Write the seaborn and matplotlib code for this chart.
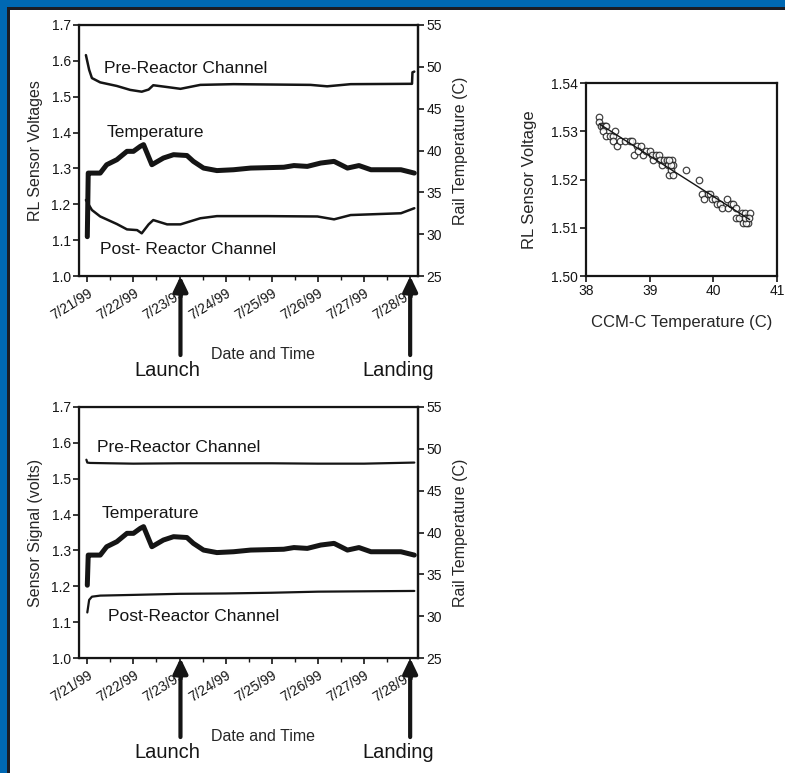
import numpy as np
import pandas as pd
import matplotlib
matplotlib.use("Agg")
import matplotlib.pyplot as plt
from matplotlib.patches import Rectangle
import seaborn as sns

# x axis: days since 7/21/99 00:00
day_ticks = [0, 1, 2, 3, 4, 5, 6, 7]
day_labels = ["7/21/99", "7/22/99", "7/23/99", "7/24/99",
              "7/25/99", "7/26/99", "7/27/99", "7/28/99"]

event_names = ["Launch", "Landing"]
event_days = [2.02, 7.0]

# upper panel: RL sensor voltages
top_pre_days = [-0.03, 0.04, 0.10, 0.28, 0.64, 0.93, 1.18, 1.33, 1.43, 1.73, 2.02,
                2.45, 3.17, 4.84, 5.20, 5.71, 7.04, 7.05, 7.09]
top_pre_volts = [1.616, 1.575, 1.552, 1.540, 1.530, 1.519, 1.514, 1.520, 1.532, 1.527, 1.522,
                 1.533, 1.535, 1.533, 1.529, 1.535, 1.536, 1.568, 1.570]
top_post_days = [-0.03, 0.10, 0.28, 0.64, 0.86, 1.08, 1.18, 1.33, 1.43, 1.73, 2.02,
                 2.45, 2.81, 3.90, 4.99, 5.35, 5.71, 6.80, 7.09]
top_post_volts = [1.212, 1.184, 1.166, 1.145, 1.130, 1.128, 1.119, 1.144, 1.156, 1.144, 1.144,
                  1.161, 1.167, 1.167, 1.166, 1.158, 1.170, 1.175, 1.189]
top_temp_start = 29.7

# lower panel: sensor signal
bot_pre_days = [-0.02, 0.00, 0.06, 0.50, 1.00, 2.00, 3.00, 4.00, 5.00, 6.00, 7.09]
bot_pre_volts = [1.553, 1.545, 1.544, 1.543, 1.542, 1.543, 1.543, 1.543, 1.542, 1.542, 1.545]
bot_post_days = [0.00, 0.04, 0.10, 0.28, 1.00, 2.00, 3.00, 4.00, 5.00, 6.00, 7.09]
bot_post_volts = [1.127, 1.162, 1.171, 1.174, 1.176, 1.179, 1.180, 1.182, 1.185, 1.186, 1.187]
bot_temp_start = 33.7

# rail temperature (C), same for both panels after the first reading
temp_days = [0.06, 0.28, 0.42, 0.64, 0.86, 1.00, 1.15, 1.22, 1.40, 1.65, 1.87, 2.16, 2.30,
             2.52, 2.81, 3.17, 3.54, 4.26, 4.48, 4.77, 5.06, 5.35, 5.64, 5.89, 6.15, 6.80, 7.09]
temp_c = [37.3, 37.3, 38.3, 38.9, 39.9, 39.9, 40.5, 40.7, 38.3, 39.1, 39.5, 39.4, 38.7,
          37.9, 37.6, 37.7, 37.9, 38.0, 38.2, 38.1, 38.5, 38.7, 37.9, 38.2, 37.7, 37.7, 37.3]

# voltage vs temperature scatter
scatter_temp = [38.21, 38.21, 38.23, 38.27, 38.30, 38.32, 38.26, 38.31, 38.38, 38.42,
                38.46, 38.43, 38.49, 38.53, 38.61, 38.69, 38.72, 38.75, 38.80, 38.87,
                38.82, 38.90, 38.95, 39.01, 39.04, 39.06, 39.10, 39.14, 39.17, 39.19,
                39.23, 39.27, 39.29, 39.31, 39.33, 39.35, 39.36, 39.37, 39.34, 39.30,
                39.57, 39.78, 39.82, 39.86, 39.91, 39.95, 39.98, 40.03, 40.06, 40.10,
                40.14, 40.21, 40.23, 40.27, 40.31, 40.36, 40.35, 40.41, 40.45, 40.47,
                40.50, 40.52, 40.55, 40.57, 40.52, 40.49, 40.56]
scatter_volt = [1.533, 1.532, 1.531, 1.531, 1.531, 1.531, 1.530, 1.529, 1.529, 1.529,
                1.530, 1.528, 1.527, 1.528, 1.528, 1.528, 1.528, 1.525, 1.527, 1.527,
                1.526, 1.525, 1.526, 1.526, 1.525, 1.524, 1.525, 1.525, 1.524, 1.523,
                1.524, 1.524, 1.523, 1.521, 1.522, 1.524, 1.523, 1.521, 1.523, 1.524,
                1.522, 1.520, 1.517, 1.516, 1.517, 1.517, 1.516, 1.516, 1.515, 1.515,
                1.514, 1.516, 1.514, 1.515, 1.515, 1.514, 1.512, 1.512, 1.513, 1.511,
                1.513, 1.512, 1.511, 1.513, 1.511, 1.512, 1.512]

ink = "#151515"

sns.set_style("ticks")
plt.rcParams["font.family"] = ["Liberation Sans", "DejaVu Sans"]
plt.rcParams["xtick.color"] = ink
plt.rcParams["ytick.color"] = ink
plt.rcParams["axes.edgecolor"] = ink

fig = plt.figure(figsize=(7.85, 7.73), dpi=100)
W, H = 785.0, 773.0

# blue frame along top and left edges only
for xy, w, h, c in [((0, 1 - 7 / H), 1, 7 / H, "#0068b3"),
                    ((0, 1 - 9.5 / H), 1, 2.5 / H, "#1c1c24"),
                    ((0, 0), 7 / W, 1, "#0068b3"),
                    ((7 / W, 0), 2.5 / W, 1 - 7 / H, "#1c1c24")]:
    fig.patches.append(Rectangle(xy, w, h, transform=fig.transFigure,
                                 facecolor=c, edgecolor="none", lw=0, zorder=0))


def sensor_panel(rect, pre_d, pre_v, post_d, post_v, t_start, ylabel, labels, thin):
    ax = fig.add_axes(rect)
    sns.lineplot(x=pre_d, y=pre_v, ax=ax, color=ink, lw=thin, estimator=None, sort=False)
    sns.lineplot(x=post_d, y=post_v, ax=ax, color=ink, lw=thin, estimator=None, sort=False)
    ax.set_xlim(-0.18, 7.17)
    ax.set_ylim(1.0, 1.7)
    ax.set_yticks(np.arange(1.0, 1.71, 0.1))
    ax.set_yticklabels([f"{v:.1f}" for v in np.arange(1.0, 1.71, 0.1)], fontsize=10)
    ax.set_xticks(day_ticks)
    ax.set_xticks(np.arange(0.5, 7.1, 1.0), minor=True)
    ax.set_xticklabels(day_labels, rotation=32, ha="right", rotation_mode="anchor", fontsize=10)
    ax.tick_params(axis="x", which="major", length=4, width=1.2, pad=3)
    ax.tick_params(axis="x", which="minor", length=3, width=1.0)
    ax.tick_params(axis="y", length=4, width=1.2, pad=2)
    ax.set_ylabel(ylabel, fontsize=11.5, labelpad=6)
    ax.set_xlabel("Date and Time", fontsize=11.5)
    ax.xaxis.set_label_coords(0.543, -0.283)
    for s in ax.spines.values():
        s.set_linewidth(1.6)

    ax2 = ax.twinx()
    sns.lineplot(x=[0.0, 0.02] + temp_days, y=[t_start, 37.3] + temp_c, ax=ax2,
                 color=ink, lw=3.6, estimator=None, sort=False)
    ax2.set_ylim(25, 55)
    ax2.set_yticks([25, 30, 35, 40, 45, 50, 55])
    ax2.tick_params(axis="y", length=4, width=1.2, pad=2, labelsize=10)
    ax2.set_ylabel("Rail Temperature (C)", fontsize=11.5, labelpad=8)
    ax2.spines["right"].set_linewidth(1.6)

    for text, x, y in labels:
        ax.text(x, y, text, fontsize=12.5, ha="left", va="center", color=ink)

    # launch / landing arrows below the axis
    for name, day, tx in zip(event_names, event_days, [0.26, 0.941]):
        ax.annotate("", xy=(day, 0.0), xycoords=("data", "axes fraction"),
                    xytext=(day, -0.315), textcoords=("data", "axes fraction"),
                    arrowprops=dict(arrowstyle="-|>,head_width=0.36,head_length=0.75",
                                    lw=3, color=ink, mutation_scale=12,
                                    shrinkA=0, shrinkB=0),
                    annotation_clip=False, zorder=10)
        ax.text(tx, -0.375, name, transform=ax.transAxes, fontsize=14.5,
                ha="center", va="center", color=ink)
    return ax


sensor_panel([79 / W, 1 - 276 / H, 339 / W, 251 / H],
             top_pre_days, top_pre_volts, top_post_days, top_post_volts, top_temp_start,
             "RL Sensor Voltages",
             [("Pre-Reactor Channel", 0.37, 1.580),
              ("Temperature", 0.41, 1.399),
              ("Post- Reactor Channel", 0.28, 1.075)], 1.8)

sensor_panel([79 / W, 1 - 658 / H, 339 / W, 251 / H],
             bot_pre_days, bot_pre_volts, bot_post_days, bot_post_volts, bot_temp_start,
             "Sensor Signal (volts)",
             [("Pre-Reactor Channel", 0.21, 1.586),
              ("Temperature", 0.32, 1.402),
              ("Post-Reactor Channel", 0.45, 1.117)], 1.6)

# scatter of voltage vs temperature with fitted line
ax3 = fig.add_axes([586 / W, 1 - 276 / H, 191 / W, 193 / H])
sns.regplot(x=scatter_temp, y=scatter_volt, ax=ax3, ci=None, marker="o",
            scatter_kws=dict(facecolors="white", edgecolors=ink, s=22, linewidths=0.9),
            line_kws=dict(color=ink, lw=1.0))
ax3.set_xlim(38, 41)
ax3.set_ylim(1.50, 1.54)
ax3.set_xticks([38, 39, 40, 41])
ax3.set_yticks([1.50, 1.51, 1.52, 1.53, 1.54])
ax3.set_yticklabels(["1.50", "1.51", "1.52", "1.53", "1.54"])
ax3.tick_params(length=4, width=1.2, labelsize=10, pad=2)
ax3.set_xlabel("CCM-C Temperature (C)", fontsize=12, labelpad=12)
ax3.set_ylabel("RL Sensor Voltage", fontsize=12, labelpad=10)
for s in ax3.spines.values():
    s.set_linewidth(1.6)

fig.savefig("out.png", dpi=100)
